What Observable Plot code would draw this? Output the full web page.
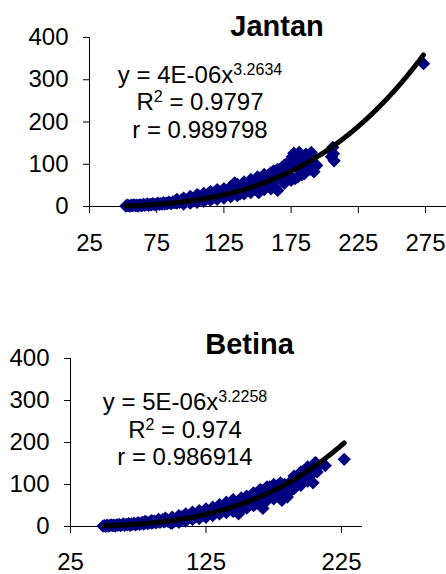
<!DOCTYPE html>
<html><head><meta charset="utf-8">
<script src="https://cdn.jsdelivr.net/npm/d3@7"></script>
<script src="https://cdn.jsdelivr.net/npm/@observablehq/plot@0.6"></script>
<style>body{margin:0;background:#fff;} svg{display:block;}</style>
</head><body><div id="chart"></div>
<script>
// ---- data ----
const yTicks = [0, 100, 200, 300, 400];
const xTicksJantan = [25, 75, 125, 175, 225, 275];
const xTicksBetina = [25, 125, 225];
const titleJantan = "Jantan";
const titleBetina = "Betina";

const xJantan = [52,53,54,55,56,57,58,59,60,61,62,63,64,65,66,67,68,69,70,71,72,73,74,75,76,77,78,79,80,81,82,83,84,85,86,87,88,89,90,91,92,93,94,95,96,97,98,99,100,101,102,103,104,105,106,107,108,109,110,111,112,113,114,115,116,117,118,119,120,121,122,123,124,125,126,127,128,129,130,131,132,133,134,135,136,137,138,139,140,141,142,143,144,145,146,147,148,149,150,151,152,153,154,155,156,157,158,159,160,161,162,163,164,165,166,167,168,169,170,171,172,173,174,175,176,177,178,179,180,181,182,183,184,185,186,187,188,189,190,191,192,193,194,205,206,206.5,207,273.5,
  90,95,100,105,110,115,120,125,130,135,140,145,150,155,160,165,170,
  95,100,105,110,115,120,125,130,135,140,145,150,155,160,170,175,180,185];
const yJantan = [1,3,2,1,3,2,4,2,3,1,4,3,2,5,3,4,6,3,5,4,7,5,4,6,8,5,7,6,9,6,8,7,10,8,7,11,9,10,8,12,10,14,11,9,13,12,15,11,14,17,13,16,14,19,26,17,21,16,19,22,18,24,20,23,19,26,22,32,29,23,27,33,26,30,28,34,29,36,31,27,38,56,33,41,35,30,44,38,46,36,49,42,39,53,45,58,41,62,50,33,66,55,47,70,58,52,74,63,78,56,84,45,72,38,84,68,92,76,96,82,100,88,72,112,118,126,66,95,104,128,86,75,110,92,124,100,115,88,128,118,82,100,97,118,140,125,108,338,
  17,20,24,28,31,36,40,42,47,52,58,64,70,76,80,88,98,
  6,8,10,12,15,17,20,23,26,30,33,36,40,42,55,62,70,78];

const xBetina = [49,50,51,52,53,54,55,56,57,58,59,60,61,62,63,64,65,66,67,68,69,70,71,72,73,74,75,76,77,78,79,80,81,82,83,84,85,86,87,88,89,90,91,92,93,94,95,96,97,98,99,100,101,102,103,104,105,106,107,108,109,110,111,112,113,114,115,116,117,118,119,120,121,122,123,124,125,126,127,128,129,130,131,132,133,134,135,136,137,138,139,140,141,142,143,144,145,146,147,148,149,150,151,152,153,154,155,156,157,158,159,160,161,162,163,164,165,166,167,168,169,170,171,172,173,174,175,176,177,178,179,180,181,182,183,184,185,186,187,188,189,190,191,192,193,194,195,196,197,198,199,200,201,202,203,204,205,206,207,208,213,227,
  80,85,90,95,100,105,110,115,120,125,130,135,140,145,155,160,165,170,175,180,190,195,200,205,
  100,105,110,115,120,125,130,135,140,145,150,155,160,165,170,175,180,190,195,200];
const yBetina = [1,2,0.5,3,1,2,4,2,3,1,4,3,5,2,4,6,3,5,4,7,3,6,5,8,4,6,9,5,7,10,6,8,11,7,9,12,8,10,13,9,11,14,10,12,16,11,13,17,12,14,8,16,19,13,17,21,15,18,23,17,20,25,19,22,27,21,24,29,23,26,31,25,28,33,27,30,36,29,33,38,31,35,41,33,38,44,36,42,48,39,45,52,42,48,55,44,38,51,47,56,30,62,68,44,58,52,64,48,70,56,74,62,52,78,66,82,58,86,43,72,90,80,66,94,84,74,96,88,78,98,92,84,62,96,100,90,70,80,104,96,112,104,110,118,106,124,112,120,128,116,124,132,118,138,126,104,140,152,130,144,145,160,
  12,14,17,20,22,26,30,34,38,42,46,52,58,64,72,80,88,94,100,104,120,130,142,150,
  8,10,13,17,19,22,26,30,33,36,40,44,50,54,62,66,72,90,98,108];

const coefJantan = [4e-6, 3.2634];   // y = a * x^b (trendline as printed)
const coefBetina = [5e-6, 3.2258];
const eqJantan = [["y = 4E-06x", "3.2634", ""], ["R", "2", " = 0.9797"], ["r = 0.989798", "", ""]];
const eqBetina = [["y = 5E-06x", "3.2258", ""], ["R", "2", " = 0.974"], ["r = 0.986914", "", ""]];

// ---- helpers ----
const FONT = "'Liberation Sans', Arial, sans-serif";

function trend(xs, coef) {
  const [a, b] = coef;
  const lo = d3.min(xs), hi = d3.max(xs);
  const pts = [];
  for (let x = lo; x <= hi; x += 1) pts.push({x, y: a * Math.pow(x, b)});
  pts.push({x: hi, y: a * Math.pow(hi, b)});
  return pts;
}

function eqMark(lines, cx, y0, gap) {
  return () => {
    const g = d3.create("svg:g")
      .attr("font-size", 24).attr("fill", "#000")
      .attr("text-anchor", "middle").attr("font-family", FONT)
      .style("white-space", "pre");
    lines.forEach(([a, s, b], i) => {
      const t = g.append("text").attr("x", cx).attr("y", y0 + i * gap);
      t.append("tspan").text(a);
      if (s) {
        t.append("tspan").attr("dy", -8).attr("font-size", 16).text(s);
        if (b) t.append("tspan").attr("dy", 8).text(b);
      }
    });
    return g.node();
  };
}

function panel(o) {
  const pts = o.xs.map((x, i) => ({x, y: o.ys[i]}));
  return Plot.plot({
    width: 446, height: o.height,
    marginLeft: o.ml, marginRight: o.mr, marginTop: o.mt, marginBottom: o.mb,
    style: {fontFamily: FONT, fontSize: "24px", color: "#000", background: "#fff", overflow: "visible"},
    x: {domain: [25, o.xMax], ticks: o.xTicks, tickSize: 7, tickPadding: o.xPad, label: null, tickFormat: d => d},
    y: {domain: [0, 400], ticks: yTicks, tickSize: 6, tickPadding: 15, label: null, tickFormat: d => d},
    marks: [
      Plot.ruleY([0], {stroke: "#000", strokeWidth: 1}),
      Plot.ruleX([25], {stroke: "#000", strokeWidth: 1}),
      Plot.dot(pts, {x: "x", y: "y", symbol: "diamond2", r: 6, fill: "#000080", stroke: "none"}),
      Plot.line(trend(o.xs, o.coef), {x: "x", y: "y", stroke: "#000", strokeWidth: 5}),
      Plot.text([o.title], {text: d => d, frameAnchor: "top", dx: o.tdx, dy: o.tdy, fontSize: 29, fontWeight: "bold", lineAnchor: "middle", fill: "#000"}),
      eqMark(o.eq, o.ecx, o.ey0, 27.5)
    ]
  });
}

const chart = document.getElementById("chart");
chart.append(panel({
  xs: xJantan, ys: yJantan, coef: coefJantan, title: titleJantan, eq: eqJantan,
  xTicks: xTicksJantan, xMax: 290.6, height: 290,
  ml: 89, mr: 0, mt: 37, mb: 84, xPad: 20,
  tdx: 9, tdy: -11, ecx: 200, ey0: 82.5
}));
chart.append(panel({
  xs: xBetina, ys: yBetina, coef: coefBetina, title: titleBetina, eq: eqBetina,
  xTicks: xTicksBetina, xMax: 240.5, height: 284,
  ml: 70, mr: 84, mt: 68, mb: 48, xPad: 19,
  tdx: 33, tdy: -14, ecx: 185, ey0: 120
}));
</script>
</body></html>
